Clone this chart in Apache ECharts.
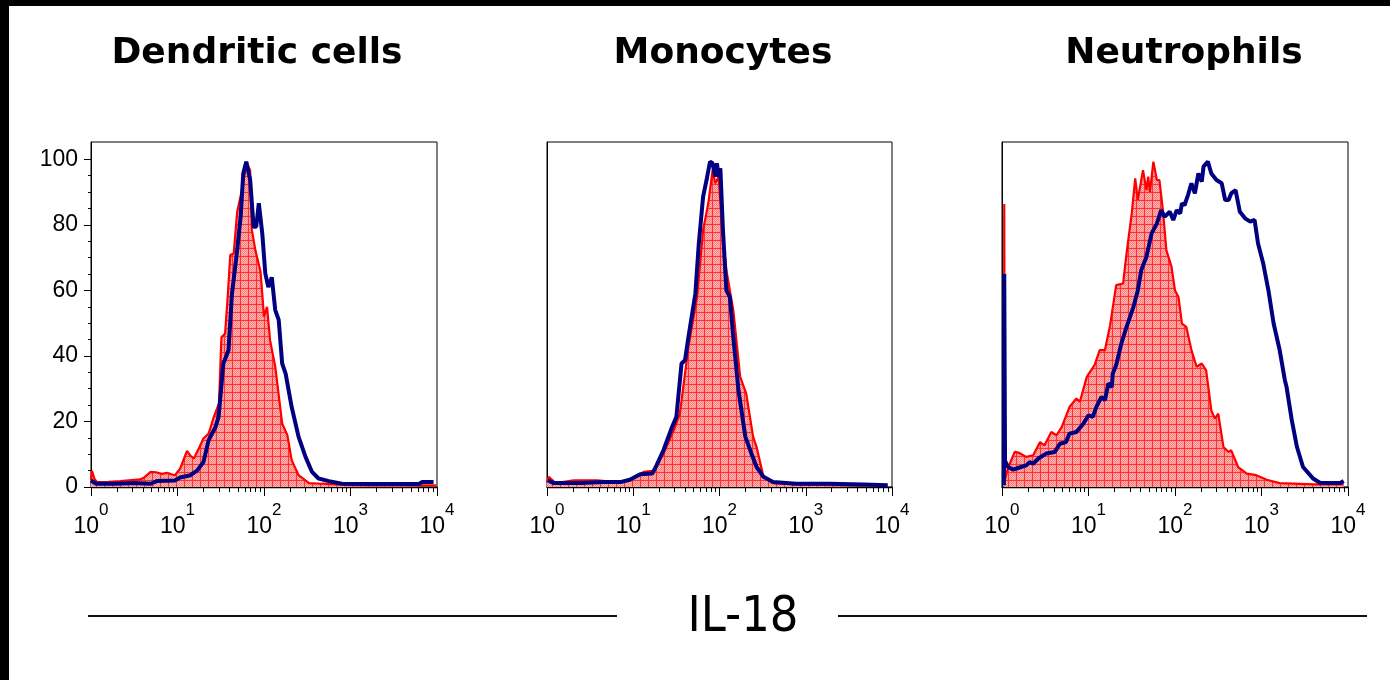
<!DOCTYPE html>
<html>
<head>
<meta charset="utf-8">
<script src="https://cdn.jsdelivr.net/npm/echarts@6/dist/echarts.min.js"></script>
<style>
html,body{margin:0;padding:0;background:#fff;}
#chart{width:1390px;height:680px;}
</style>
</head>
<body>
<div id="chart"></div>
<script>
// ---- data (x as log10 of fluorescence, y as % of max) ----
const panelTitles = ['Dendritic cells', 'Monocytes', 'Neutrophils'];
const xAxisTitle = 'IL-18';
const xMajorTicks = [1, 10, 100, 1000, 10000];
const xMinorTicks = [2,3,4,5,6,7,8,9,20,30,40,50,60,70,80,90,200,300,400,500,600,700,800,900,2000,3000,4000,5000,6000,7000,8000,9000];
const yMajorTicks = [0, 20, 40, 60, 80, 100];
const yMinorTicks = [5,10,15,25,30,35,45,50,55,65,70,75,85,90,95];

const dcRed = [[0.0,2.0],[0.01,5.0],[0.04,2.5],[0.07,1.5],[0.2,1.6],[0.34,1.8],[0.5,2.2],[0.57,2.3],[0.62,3.0],[0.69,4.6],[0.75,4.5],[0.82,4.0],[0.88,4.3],[0.94,3.8],[0.97,3.6],[1.03,5.6],[1.08,9.0],[1.11,11.0],[1.15,9.5],[1.19,8.7],[1.25,12.0],[1.30,14.8],[1.36,16.3],[1.42,21.4],[1.48,25.5],[1.505,44.0],[1.51,45.8],[1.55,46.8],[1.58,58],[1.61,70.8],[1.65,71.3],[1.69,84],[1.745,90.6],[1.78,96],[1.80,98.8],[1.84,96.7],[1.86,78.4],[1.90,72.3],[1.96,65.7],[2.0,52],[2.035,55],[2.07,44.8],[2.13,36.7],[2.21,19.4],[2.27,15.8],[2.32,8.2],[2.40,3.6],[2.52,1.2],[2.67,1.0],[3.0,0.6],[3.21,0.5],[3.6,0.5],[3.99,0.5]];
const dcBlue = [[0.0,2.0],[0.02,1.5],[0.06,1.0],[0.3,1.0],[0.49,1.2],[0.69,1.0],[0.76,1.8],[0.97,2.0],[1.03,2.9],[1.15,3.6],[1.23,5.1],[1.30,7.6],[1.36,14.3],[1.44,18.3],[1.475,21.4],[1.53,37.7],[1.565,40],[1.59,41.8],[1.63,59],[1.69,72.3],[1.73,82.5],[1.76,95.7],[1.795,99.3],[1.84,93.7],[1.88,79.4],[1.91,79.4],[1.94,86.6],[1.98,77.4],[2.015,65.2],[2.05,61],[2.09,64],[2.13,54],[2.17,51],[2.21,37.7],[2.25,34.6],[2.32,24.4],[2.40,15.3],[2.48,9.2],[2.555,4.6],[2.63,2.6],[2.75,1.8],[2.90,1.0],[3.21,0.9],[3.79,0.9],[3.83,1.5],[3.96,1.5]];

const monoRed = [[0.0,1.5],[0.02,3.1],[0.1,1.2],[0.31,2.0],[0.58,2.0],[0.81,1.5],[0.96,2.0],[1.12,4.6],[1.23,4.9],[1.35,10.2],[1.47,17.3],[1.54,22.4],[1.64,42.8],[1.74,58],[1.81,78.4],[1.87,86.6],[1.92,96.7],[1.95,92.7],[1.99,94.7],[2.03,78.4],[2.08,66.2],[2.16,54],[2.24,33.6],[2.31,28.5],[2.39,15.3],[2.43,12.2],[2.51,3.1],[2.62,1.2],[2.89,0.8],[3.3,0.6],[3.95,0.5]];
const monoBlue = [[0.01,2.0],[0.08,1.2],[0.39,1.2],[0.66,1.5],[0.85,1.5],[0.96,2.2],[1.08,3.9],[1.22,4.1],[1.27,6.6],[1.35,11.2],[1.45,18.3],[1.50,21.4],[1.56,37.7],[1.60,38.7],[1.64,45.8],[1.72,59],[1.76,74.3],[1.81,88.6],[1.85,93.7],[1.89,99.3],[1.92,98.8],[1.95,94.7],[1.97,98.8],[1.99,94.7],[2.01,97.3],[2.04,78.4],[2.08,60],[2.12,58],[2.16,45.8],[2.22,29.5],[2.30,15.3],[2.37,10.2],[2.43,6.1],[2.51,3.1],[2.62,1.5],[2.89,1.0],[3.28,1.0],[3.67,0.8],[3.95,0.5]];

const neutRed = [[0.022,0.5],[0.026,86.4],[0.032,2.0],[0.06,5.0],[0.09,7.1],[0.147,10.7],[0.20,10.4],[0.28,9.2],[0.36,9.7],[0.44,13.7],[0.49,12.7],[0.57,16.8],[0.63,15.8],[0.69,18.3],[0.78,24.4],[0.86,27],[0.90,26],[0.98,33.6],[1.07,37.2],[1.13,41.8],[1.19,41.8],[1.25,49.4],[1.32,61.6],[1.40,62.1],[1.44,71.3],[1.50,83.5],[1.54,94.2],[1.57,87.6],[1.63,96.7],[1.67,90.6],[1.69,94.7],[1.71,90],[1.75,99.3],[1.79,93.7],[1.82,93.7],[1.86,84.5],[1.90,72.3],[1.96,67.2],[2.0,60],[2.04,58],[2.08,49.9],[2.13,48.9],[2.19,41.8],[2.25,36.7],[2.31,37.7],[2.36,35.6],[2.42,23.4],[2.46,20.9],[2.50,22.4],[2.56,12.2],[2.62,10.7],[2.65,11.2],[2.73,6.1],[2.83,4.1],[2.94,3.6],[3.06,2.2],[3.21,1.2],[3.60,0.8],[3.95,0.8]];
const neutBlue = [[0.022,0.5],[0.026,65],[0.035,8],[0.07,6.1],[0.13,5.3],[0.22,6.1],[0.28,6.6],[0.32,7.6],[0.36,7.1],[0.42,8.7],[0.51,10.2],[0.61,10.7],[0.67,13.2],[0.74,13.7],[0.78,16.3],[0.86,16.8],[0.94,19.3],[1.0,21.9],[1.05,21.4],[1.09,24.4],[1.15,27.5],[1.19,26.5],[1.23,31.6],[1.27,30.5],[1.28,34.6],[1.32,37.2],[1.38,43.8],[1.44,48.9],[1.52,55],[1.57,60],[1.61,66.2],[1.67,70.3],[1.73,77.4],[1.79,80.4],[1.84,84.5],[1.88,82.5],[1.94,84],[1.98,81.5],[2.02,84.5],[2.06,83.5],[2.08,86.6],[2.11,86],[2.15,89.1],[2.19,92.7],[2.23,89.6],[2.27,95.7],[2.31,93.2],[2.33,97.8],[2.38,99.3],[2.42,95.7],[2.48,93.7],[2.54,92.7],[2.58,87.6],[2.62,87.6],[2.65,89.6],[2.70,90.6],[2.75,84],[2.81,82],[2.87,81],[2.92,81.5],[2.96,74.3],[3.02,68.2],[3.08,60],[3.14,49.9],[3.21,41.8],[3.27,32.6],[3.29,30.5],[3.35,20.4],[3.41,12.2],[3.48,6.1],[3.60,2.5],[3.68,1.2],[3.91,1.2],[3.95,1.8]];

const redSets = [dcRed, monoRed, neutRed];
const blueSets = [dcBlue, monoBlue, neutBlue];

// ---- layout ----
const grids = [
  {left: 91, top: 142, width: 346, height: 345},
  {left: 547, top: 142, width: 345, height: 345},
  {left: 1002, top: 142, width: 346, height: 345}
];
const titleCenters = [257, 723, 1184];

function makePattern() {
  const c = document.createElement('canvas');
  c.width = 8; c.height = 8;
  const ctx = c.getContext('2d');
  for (let y = 0; y < 8; y++) {
    for (let x = 0; x < 8; x++) {
      ctx.fillStyle = ((x + y) % 2) ? '#ffb8b8' : '#ff7c7c';
      ctx.fillRect(x, y, 1, 1);
    }
  }
  ctx.fillStyle = '#ff3030';
  ctx.fillRect(0, 0, 8, 1);
  ctx.fillRect(0, 0, 1, 8);
  return c;
}
const pat = makePattern();

const labelFont = '"Liberation Sans", Arial, sans-serif';
const toPts = arr => arr.map(p => [Math.pow(10, p[0]), p[1]]);

const xAxes = [], yAxes = [], series = [];
for (let i = 0; i < 3; i++) {
  xAxes.push({
    type: 'log', logBase: 10, gridIndex: i, min: 1, max: 10000, position: 'bottom',
    axisLine: {show: true, onZero: false, lineStyle: {color: '#000', width: 1.3}},
    axisTick: {show: true, length: 9, customValues: xMajorTicks, lineStyle: {color: '#000'}},
    axisLabel: {
      show: true, customValues: xMajorTicks, margin: 15, hideOverlap: false,
      formatter: v => '{b|10}{s|' + Math.round(Math.log10(v)) + '}',
      rich: {
        b: {fontSize: 23, fontFamily: labelFont, color: '#000', lineHeight: 36, verticalAlign: 'bottom'},
        s: {fontSize: 17, fontFamily: labelFont, color: '#000', lineHeight: 36, verticalAlign: 'top'}
      }
    },
    splitLine: {show: false}
  });
}
for (let i = 0; i < 3; i++) {
  xAxes.push({
    type: 'log', logBase: 10, gridIndex: i, min: 1, max: 10000, position: 'bottom',
    axisLine: {show: false},
    axisTick: {show: true, length: 5, customValues: xMinorTicks, lineStyle: {color: '#000'}},
    axisLabel: {show: false},
    splitLine: {show: false}
  });
}
for (let i = 0; i < 3; i++) {
  yAxes.push({
    type: 'value', gridIndex: i, min: 0, max: 105.3, position: 'left',
    axisLine: {show: true, lineStyle: {color: '#000', width: 1}},
    axisTick: {show: i === 0, length: 7, customValues: yMajorTicks, lineStyle: {color: '#000'}},
    axisLabel: {show: i === 0, customValues: yMajorTicks, margin: 13, fontSize: 23, fontFamily: labelFont, color: '#000'},
    splitLine: {show: false}
  });
}
yAxes.push({
  type: 'value', gridIndex: 0, min: 0, max: 105.3, position: 'left',
  axisLine: {show: false},
  axisTick: {show: true, length: 3, customValues: yMinorTicks, lineStyle: {color: '#000'}},
  axisLabel: {show: false},
  splitLine: {show: false}
});

for (let i = 0; i < 3; i++) {
  series.push({
    type: 'line', xAxisIndex: i, yAxisIndex: i, data: toPts(redSets[i]),
    symbol: 'none', smooth: false,
    lineStyle: {color: '#ff0000', width: 2.2},
    areaStyle: {color: {image: pat, repeat: 'repeat'}, opacity: 1},
    z: 2
  });
  series.push({
    type: 'line', xAxisIndex: i, yAxisIndex: i, data: toPts(blueSets[i]),
    symbol: 'none', smooth: false,
    lineStyle: {color: '#000080', width: 4},
    z: 3
  });
}

const graphics = [
  {type: 'rect', shape: {x: 0, y: 0, width: 1390, height: 6}, style: {fill: '#000'}},
  {type: 'rect', shape: {x: 0, y: 0, width: 9, height: 680}, style: {fill: '#000'}},
  {type: 'line', shape: {x1: 88, y1: 616, x2: 617, y2: 616}, style: {stroke: '#111', lineWidth: 2}},
  {type: 'line', shape: {x1: 838, y1: 616, x2: 1367, y2: 616}, style: {stroke: '#111', lineWidth: 2}},
  {type: 'text', x: 743, y: 618, style: {text: xAxisTitle, font: '50px "DejaVu Sans Condensed", "DejaVu Sans", sans-serif', fill: '#000', textAlign: 'center', textVerticalAlign: 'middle'}}
];
for (let i = 0; i < 3; i++) {
  graphics.push({type: 'text', x: titleCenters[i], y: 54,
    style: {text: panelTitles[i], font: 'bold 36px "DejaVu Sans", sans-serif', fill: '#000', textAlign: 'center', textVerticalAlign: 'middle'}});
}

const chart = echarts.init(document.getElementById('chart'), null, {renderer: 'canvas'});
chart.setOption({
  backgroundColor: '#fff',
  animation: false,
  grid: grids.map(g => Object.assign({show: true, borderColor: '#000', borderWidth: 1, backgroundColor: 'transparent'}, g)),
  xAxis: xAxes,
  yAxis: yAxes,
  series: series,
  graphic: graphics
});
</script>
</body>
</html>
